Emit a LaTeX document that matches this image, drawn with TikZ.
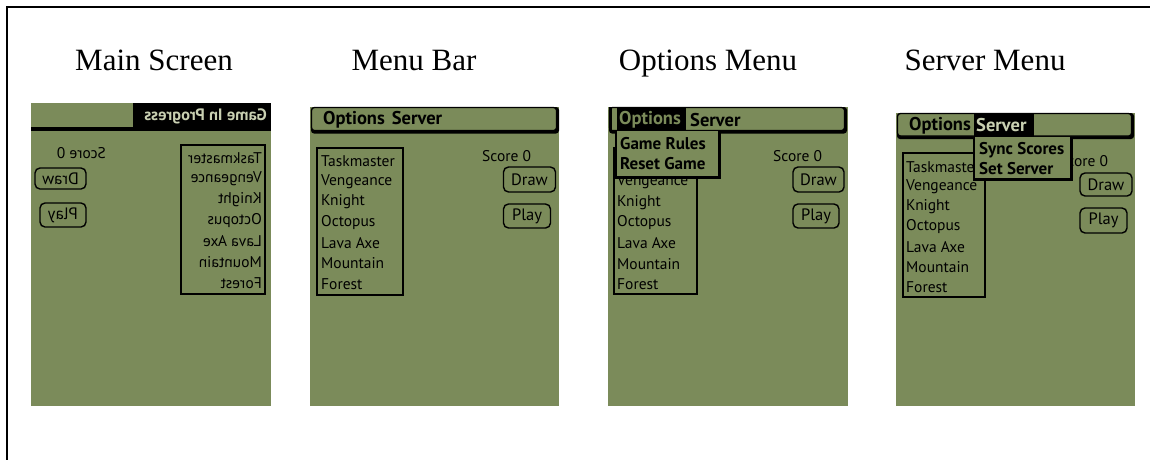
\documentclass[tikz,border=0pt]{standalone}
\usepackage{fontspec}
\setmainfont{Liberation Serif}
\newfontfamily\lcdfont{PT Sans}
\definecolor{palm}{HTML}{7B8B5A}
\definecolor{palmlight}{HTML}{C9D0B2}
\tikzset{
  screen/.style={fill=palm},
  heading/.style={font=\fontsize{31}{36}\selectfont, anchor=base, inner sep=0},
  item/.style={font=\lcdfont\fontsize{15.5}{16}\selectfont, anchor=west, inner sep=0, text=black},
  menuitem/.style={font=\lcdfont\bfseries\fontsize{17}{18}\selectfont, anchor=west, inner sep=0, text=black},
  barlabel/.style={menuitem, font=\lcdfont\bfseries\fontsize{18.5}{19}\selectfont},
  btn/.style={draw=black, line width=1.4pt, rounded corners=5pt, fill=palm,
              font=\lcdfont\fontsize{16.5}{17}\selectfont, inner sep=0},
  listbox/.style={draw=black, line width=1.5pt},
  shadow/.style={fill=black},
  frameline/.style={line width=1.6pt, line cap=rect},
}
\begin{document}
\begin{tikzpicture}[x=1pt, y=-1pt]
\useasboundingbox (0,0) rectangle (1150,459);

% outer frame: top and left edges only
\coordinate (fa) at (7,459);
\coordinate (fb) at (7,7);
\coordinate (fc) at (1150,7);
\draw[frameline] (fa) -- (fb) -- (fc);

% headings
\node[heading] (h1) at (154,70) {Main Screen};
\node[heading] (h2) at (414,70) {Menu Bar};
\node[heading] (h3) at (708,70) {Options Menu};
\node[heading] (h4) at (985,70) {Server Menu};

% ---------- screen 1: main screen, shown mirrored ----------
\fill[screen] (31,103) rectangle (271,406);
\begin{scope}[shift={(302,0)}, xscale=-1, transform shape]
  \fill[black] (31,103) rectangle (169,127);
  \fill[black] (31,127) rectangle (271,131);
  \node[menuitem, text=palmlight, font=\lcdfont\bfseries\fontsize{16.5}{17}\selectfont] (s1title) at (35,116) {Game In Progress};
  \node[item] (s1score) at (196,153) {Score 0};
  \node[btn, minimum width=51pt, minimum height=21pt] (s1draw) at (241.5,178.5) {Draw};
  \node[btn, minimum width=46pt, minimum height=24pt] (s1play) at (239,215) {Play};
  \draw[listbox] (37,145) rectangle (121,294);
  \foreach \t [count=\k] in {Taskmaster,Vengeance,Knight,Octopus,Lava Axe,Mountain,Forest}
    \node[item] (s1l\k) at (40,{158+(\k-1)*20.8}) {\t};
\end{scope}

% ---------- screen 2: menu bar ----------
\fill[screen] (310,107) rectangle (559,406);
\fill[shadow, rounded corners=3pt] (311,107) rectangle (559,133.5);
\filldraw[fill=palm, draw=black, line width=1.2pt, rounded corners=3pt] (311.5,107.5) rectangle (556.5,130.5);
\node[barlabel] (s2menu) at (323,120) {Options\hspace{7pt}Server};
\draw[listbox] (317,148) rectangle (403,295);
\foreach \t [count=\k] in {Taskmaster,Vengeance,Knight,Octopus,Lava Axe,Mountain,Forest}
  \node[item] (s2l\k) at (321,{161+(\k-1)*20.5}) {\t};
\node[item] (s2score) at (482,156) {Score 0};
\node[btn, minimum width=52pt, minimum height=25pt] (s2draw) at (529.5,179.5) {Draw};
\node[btn, minimum width=47pt, minimum height=24pt] (s2play) at (527,216) {Play};

% ---------- screen 3: options menu open ----------
\fill[screen] (608,107) rectangle (848,406);
\draw[listbox] (614,148) rectangle (697,294);
\foreach \t [count=\k] in {Vengeance,Knight,Octopus,Lava Axe,Mountain,Forest}
  \node[item] (s3l\k) at (617,{182+(\k-1)*20.5}) {\t};
\node[item] (s3score) at (773,156) {Score 0};
\node[btn, minimum width=51pt, minimum height=25pt] (s3draw) at (818.5,179.5) {Draw};
\node[btn, minimum width=46pt, minimum height=24pt] (s3play) at (816,216) {Play};
\fill[shadow, rounded corners=3pt] (609,107) rectangle (847,133.5);
\filldraw[fill=palm, draw=black, line width=1.2pt, rounded corners=3pt] (609.5,107.5) rectangle (844.5,130.5);
\fill[black] (609,107) rectangle (612,131);
\fill[black] (617,108) rectangle (686,131);
\node[barlabel, text=palm] (s3opt) at (619,120) {Options};
\node[barlabel] (s3srv) at (690,120) {Server};
\fill[shadow] (615,131) rectangle (721,178.5);
\fill[palm] (617,131) rectangle (718,175.5);
\node[menuitem] (s3m1) at (620,144) {Game Rules};
\node[menuitem] (s3m2) at (620,164) {Reset Game};

% ---------- screen 4: server menu open ----------
\fill[screen] (896,113) rectangle (1135,406);
\draw[listbox] (903,153) rectangle (985,297);
\foreach \t [count=\k] in {Taskmaster,Vengeance,Knight,Octopus,Lava Axe,Mountain,Forest}
  \node[item] (s4l\k) at (906,{167+(\k-1)*20}) {\t};
\node[item] (s4score) at (1059,161) {Score 0};
\node[btn, minimum width=52pt, minimum height=23pt] (s4draw) at (1106,184.5) {Draw};
\node[btn, minimum width=47pt, minimum height=25pt] (s4play) at (1103.5,220.5) {Play};
\fill[shadow, rounded corners=3pt] (897,113) rectangle (1134,139);
\filldraw[fill=palm, draw=black, line width=1.2pt, rounded corners=3pt] (897.5,113.5) rectangle (1131.5,136);
\node[barlabel] (s4opt) at (909,125.5) {Options};
\fill[black] (974,114) rectangle (1034,137);
\node[barlabel, text=palmlight] (s4srv) at (976,125.5) {Server};
\fill[shadow] (973,137) rectangle (1073,181);
\fill[palm] (975,137) rectangle (1070,178);
\node[menuitem] (s4m1) at (979,150) {Sync Scores};
\node[menuitem] (s4m2) at (979,169) {Set Server};
\end{tikzpicture}
\end{document}
